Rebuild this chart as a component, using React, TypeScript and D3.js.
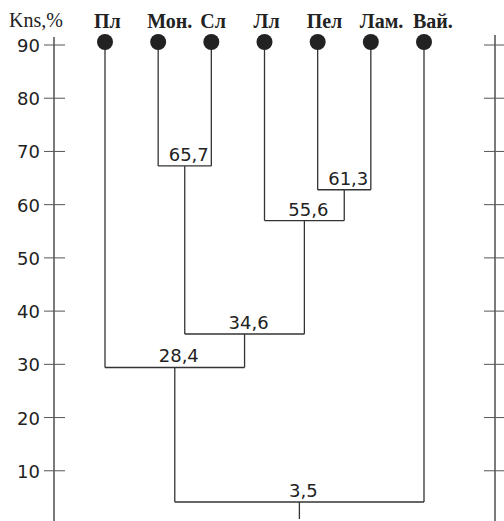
import React from "react";
import * as d3 from "d3";

// ---- data ----
const leaves = ["Пл", "Мон.", "Сл", "Лл", "Пел", "Лам.", "Вай."];
const mergeIds = ["m1", "m2", "m3", "m4", "m5", "m6"];
const mergeChildren = [
  ["Мон.", "Сл"],
  ["Пел", "Лам."],
  ["Лл", "m2"],
  ["m1", "m3"],
  ["Пл", "m4"],
  ["m5", "Вай."],
];
const mergeValues = [65.7, 61.3, 55.6, 34.6, 28.4, 3.5];
const axisTicks = [10, 20, 30, 40, 50, 60, 70, 80, 90];
const axisTitle = "Kns,%";

const W = 504;
const H = 521;

const fmt = d3
  .formatLocale({ decimal: ",", thousands: " ", grouping: [3], currency: ["", ""] })
  .format(".1f");

export default function App() {
  const xLeaf = d3.scalePoint<string>().domain(leaves).range([105, 424]);
  const yAxis = d3.scaleLinear().domain([0, 90]).range([524, 45]);
  const yDend = d3.scaleLinear().domain([0, 90]).range([520.9, 34.7]);
  const leafY = 42;
  const axisLeftX = 54;
  const axisRightX = 495;
  const stroke = "#333";
  const sw = 1.3;

  const pos: Record<string, { x: number; y: number }> = {};
  leaves.forEach((l) => (pos[l] = { x: xLeaf(l) as number, y: leafY }));
  mergeIds.forEach((id, i) => {
    const [a, b] = mergeChildren[i];
    pos[id] = { x: (pos[a].x + pos[b].x) / 2, y: yDend(mergeValues[i]) };
  });
  const root = pos[mergeIds[mergeIds.length - 1]];

  return (
    <svg
      width={W}
      height={H}
      style={{ position: "absolute", left: 0, top: 0, background: "#fff" }}
    >
      {/* axes */}
      <line x1={axisLeftX} x2={axisLeftX} y1={37} y2={H} stroke={stroke} strokeWidth={sw} />
      <line x1={axisRightX} x2={axisRightX} y1={35} y2={H} stroke={stroke} strokeWidth={sw} />
      {axisTicks.map((t) => (
        <g key={t}>
          <line x1={axisLeftX - 10} x2={axisLeftX + 11} y1={yAxis(t)} y2={yAxis(t)} stroke="#555" strokeWidth={1} />
          <line x1={axisRightX - 11} x2={axisRightX + 11} y1={yAxis(t)} y2={yAxis(t)} stroke="#555" strokeWidth={1} />
          <text
            x={40}
            y={yAxis(t) + 7}
            textAnchor="end"
            fontFamily="DejaVu Sans"
            fontSize={18}
            fill="#222"
          >
            {t}
          </text>
        </g>
      ))}
      <text x={9} y={27} fontFamily="Liberation Serif" fontSize={20} fill="#222">
        {axisTitle}
      </text>

      {/* dendrogram links */}
      {mergeIds.map((id, i) => {
        const [a, b] = mergeChildren[i];
        const p = pos[id];
        return (
          <g key={id}>
            <line x1={pos[a].x} x2={pos[b].x} y1={p.y} y2={p.y} stroke={stroke} strokeWidth={sw} />
            <line x1={pos[a].x} x2={pos[a].x} y1={pos[a].y} y2={p.y} stroke={stroke} strokeWidth={sw} />
            <line x1={pos[b].x} x2={pos[b].x} y1={pos[b].y} y2={p.y} stroke={stroke} strokeWidth={sw} />
            <text
              x={p.x + 4}
              y={p.y - 5}
              textAnchor="middle"
              fontFamily="DejaVu Sans"
              fontSize={18}
              fill="#222"
            >
              {fmt(mergeValues[i])}
            </text>
          </g>
        );
      })}
      <line x1={root.x} x2={root.x} y1={root.y} y2={root.y + 17} stroke={stroke} strokeWidth={sw} />

      {/* leaves */}
      {leaves.map((l) => (
        <g key={l}>
          <circle cx={pos[l].x} cy={leafY} r={8} fill="#222" />
          <text
            x={pos[l].x - 11}
            y={28}
            fontFamily="Liberation Serif"
            fontWeight="bold"
            fontSize={20}
            fill="#222"
          >
            {l}
          </text>
        </g>
      ))}
    </svg>
  );
}
